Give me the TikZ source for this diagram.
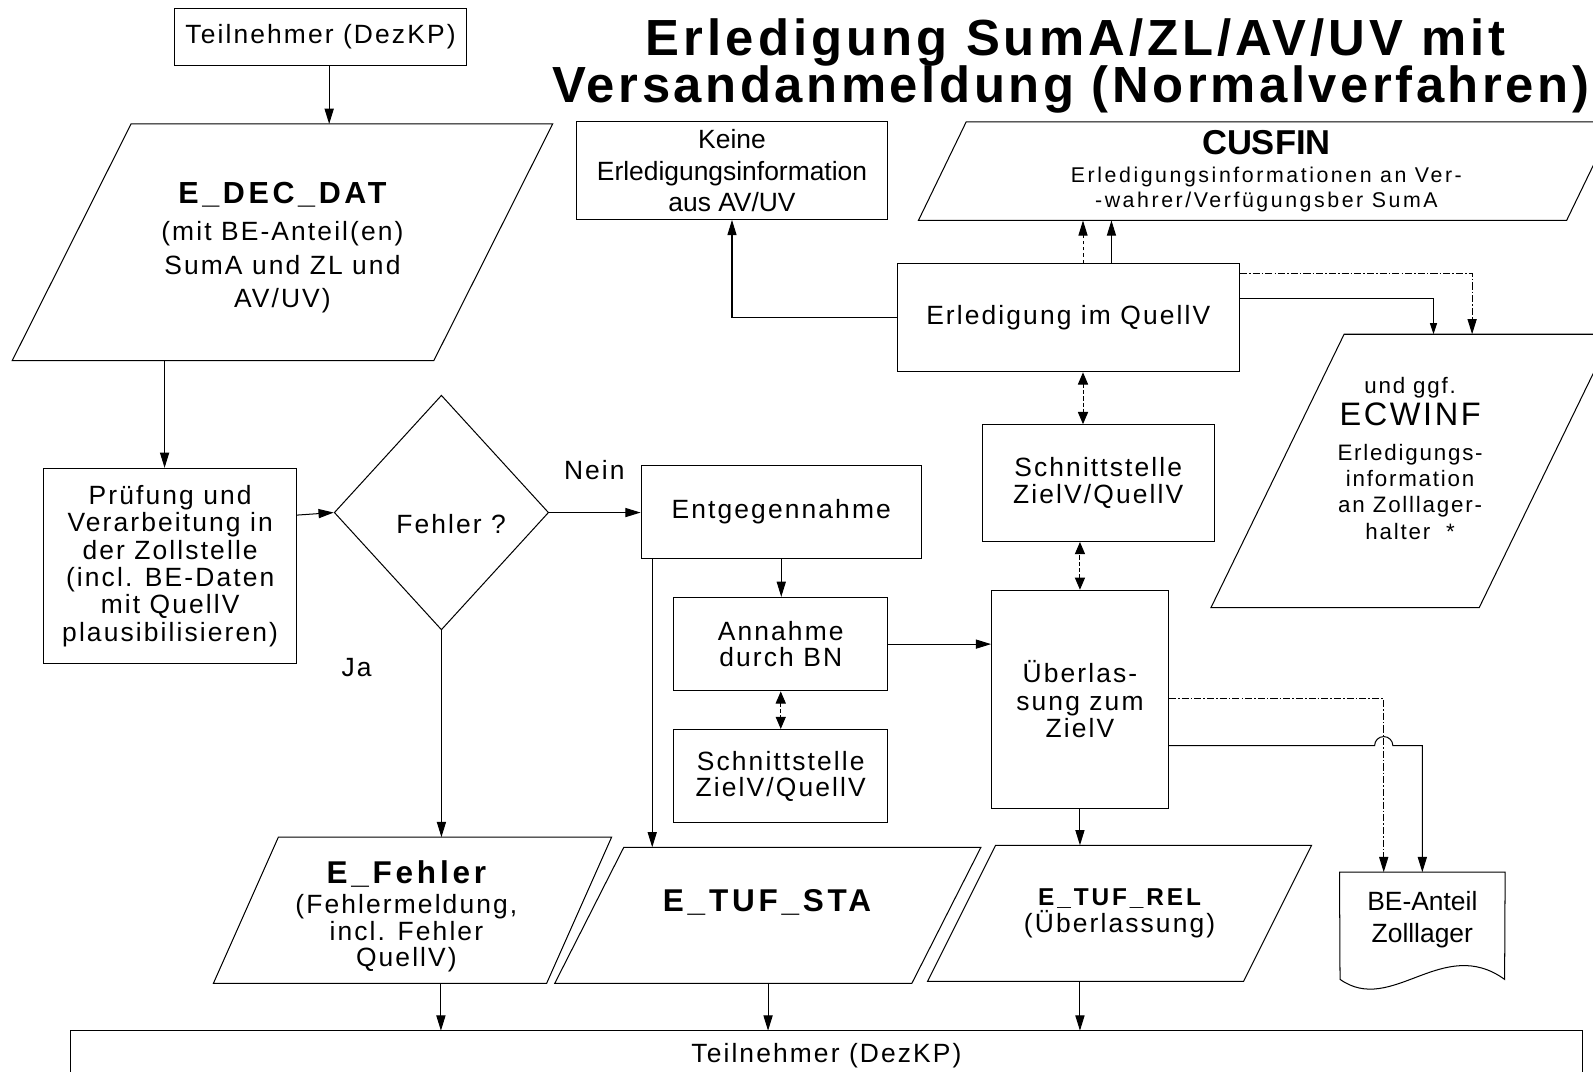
\documentclass[tikz,border=0pt]{standalone}
\usepackage{fontspec}
\setmainfont{Liberation Sans}
\newfontfamily\trackA[LetterSpace=8]{Liberation Sans}
\newfontfamily\trackB[LetterSpace=12]{Liberation Sans}
\newfontfamily\trackT[LetterSpace=7]{Liberation Sans}
\newcommand\fsz[2]{\fontsize{#1}{#2}\selectfont}
\usetikzlibrary{shapes.geometric,arrows.meta}

\begin{document}
\begin{tikzpicture}[x=1pt, y=-1pt, line width=1pt,
	box/.style={draw, rectangle, inner sep=0pt, align=center, font=\trackA\fsz{26}{27}},
	data/.style={rectangle, inner sep=0pt, outer sep=0pt, align=center, font=\trackA\fsz{26}{26}},
	txt/.style={inner sep=0pt, align=center, font=\trackA\fsz{26}{27}},
	arr/.style={-{Triangle[length=15pt,width=9pt]}},
	twoway/.style={dash pattern=on 4pt off 2pt, {Triangle[length=12pt,width=10pt]}-{Triangle[length=12pt,width=10pt]}},
	dashdot/.style={dash pattern=on 7pt off 2pt on 1.5pt off 2pt}]
	\useasboundingbox (0,0) rectangle (1568,1055);
	\clip (0,0) rectangle (1568,1055);

	% title
	\node[anchor=base, inner sep=0pt, font=\trackA\bfseries\fsz{50}{52}] (title1) at (1059,55) {Erledigung SumA/ZL/AV/UV mit};
	\node[anchor=base, inner sep=0pt, font=\trackT\bfseries\fsz{50}{52}] (title2) at (1054,101) {Versandanmeldung (Normalverfahren)};

	% left column
	\node[box, minimum width=287, minimum height=56] (tntop) at (315.5,36) {Teilnehmer (DezKP)};
	\node[data, minimum width=415, minimum height=233] (edec) at (278,238.5) {};
	\node[txt, font=\trackA\fsz{26}{33}] (edectxt) at (278,244)
		{{\trackB\bfseries\fsz{30}{33}E\_DEC\_DAT}\\[3pt](mit BE-Anteil(en)\\SumA und ZL und\\AV/UV)};
	\node[box, minimum width=249, minimum height=192] (pruef) at (167.5,557)
		{Prüfung und\\Verarbeitung in\\der Zollstelle\\(incl. BE-Daten\\mit QuellV\\plausibilisieren)};
	\node[draw, diamond, inner sep=0pt, minimum width=211, minimum height=231] (fehler) at (434.5,504.5) {};
	\node[txt] (fehlertxt) at (444,516) {Fehler ?};
	\node[txt] (nein) at (585,463) {Nein};
	\node[txt] (ja) at (351,657) {Ja};

	% middle column
	\node[box, minimum width=276, minimum height=92] (entg) at (769,504) {Entgegennahme};
	\node[box, minimum width=211, minimum height=92, font=\trackA\fsz{26}{26}] (annahme) at (768.5,634) {Annahme\\durch BN};
	\node[box, minimum width=211, minimum height=92, font=\trackA\fsz{26}{26}] (schnittU) at (768.5,764) {Schnittstelle\\ZielV/QuellV};
	\node[box, minimum width=307, minimum height=96, font=\fsz{26}{31}] (keine) at (720.5,168) {Keine\\Erledigungsinformation\\aus AV/UV};

	% right column
	\node[box, minimum width=337, minimum height=107] (erled) at (1051.5,312.5) {Erledigung im QuellV};
	\node[box, minimum width=228, minimum height=115, font=\trackA\fsz{26}{26}] (schnittO) at (1081,475.5) {Schnittstelle\\ZielV/QuellV};
	\node[box, minimum width=174, minimum height=215] (ueberl) at (1063,688.5) {Überlas-\\sung zum\\ZielV};
	\node[data, minimum width=638, minimum height=97, font=\trackB\fsz{21}{25}] (cusfin) at (1246.5,168.5)
		{{\rmfamily\bfseries\fsz{34}{36}CUSFIN}\\[2pt]Erledigungsinformationen an Ver-\\-wahrer/Verfügungsber SumA};
	\node[data, minimum width=264, minimum height=269] (ecwinf) at (1389.5,463.5) {};
	\node[txt, font=\trackA\fsz{22}{26}] (ecwtxt) at (1388,451)
		{und ggf.\\[4pt]{\fsz{32}{34}ECWINF}\\[8pt]Erledigungs-\\information\\an Zolllager-\\halter\ \ *};
	\node[inner sep=0pt, minimum width=162, minimum height=92, align=center, font=\fsz{26}{32}] (beanteil) at (1400,905) {BE-Anteil\\Zolllager};
	\draw (beanteil.north west) -- (beanteil.north east) -- (1481,964) .. controls (1420,920) and (1370,1000) .. (1319,964) -- cycle;

	% output messages
	\node[data, minimum width=328, minimum height=144] (efehler) at (406,896) {};
	\node[txt, font=\trackA\fsz{26}{26}] (efehlertxt) at (400,902)
		{{\trackB\bfseries\fsz{31}{32}E\_Fehler}\\[4pt](Fehlermeldung,\\incl. Fehler\\QuellV)};
	\node[data, minimum width=351.5, minimum height=134] (etufsta) at (755.75,901) {};
	\node[txt, font=\trackB\bfseries\fsz{31}{32}] (statxt) at (755,888) {E\_TUF\_STA};
	\node[data, minimum width=311, minimum height=134] (etufrel) at (1102,899)
		{{\trackB\bfseries\fsz{24}{26}E\_TUF\_REL}\\(Überlassung)};
	\node[inner sep=0pt, minimum width=1487, minimum height=48, font=\trackA\fsz{26}{27}] (tnbottom) at (813.5,1039) {Teilnehmer (DezKP)};
	\draw ([yshift=-30pt]tnbottom.south west) -- (tnbottom.north west) -- (tnbottom.north east) -- ([yshift=-30pt]tnbottom.south east);

	% slanted data shapes
	\foreach \n/\s in {edec/117, cusfin/47, ecwinf/131, efehler/64, etufsta/68, etufrel/67}
		\draw ([xshift=\s/2]\n.north west) -- ([xshift=\s/2]\n.north east) -- ([xshift=-\s/2]\n.south east) -- ([xshift=-\s/2]\n.south west) -- cycle;

	% connectors
	\draw[arr] (324,0 |- tntop.south) -- (324,0 |- edec.north);
	\draw[arr] (162,0 |- edec.south) -- (162,0 |- pruef.north);
	\draw[arr] (pruef.east |- 0,507) -- (fehler.west);
	\draw[arr] (fehler.east) -- (fehler.east -| entg.west);
	\draw[arr] (fehler.south) -- (fehler.south |- efehler.north);
	\draw[arr] (642,0 |- entg.south) -- (642,0 |- etufsta.north);
	\draw[arr] (entg.south) -- (entg.south |- annahme.north);
	\draw[twoway] (annahme.south) -- (schnittU.north);
	\draw[arr] (annahme.east) -- (annahme.east -| ueberl.west);
	\draw[arr] (ueberl.south) -- (ueberl.south |- etufrel.north);
	\draw[twoway] (ueberl.north) -- (ueberl.north |- schnittO.south);
	\draw[twoway] (1066,0 |- erled.south) -- (1066,0 |- schnittO.north);
	\draw[arr] (erled.west) -- (erled.west -| keine.south) -- (keine.south);
	\draw[arr, dashed] (1066,0 |- erled.north) -- (1066,0 |- cusfin.south);
	\draw[arr] (1094,0 |- erled.north) -- (1094,0 |- cusfin.south);
	\draw[arr, dashdot] (erled.east |- 0,269) -| (1449,0 |- ecwinf.north);
	\draw[-{Triangle[length=11pt,width=7pt]}] (erled.east |- 0,294) -| (1411,0 |- ecwinf.north);
	\draw[arr, dashdot] (ueberl.east |- 0,688) -| (1362,0 |- beanteil.north);
	\draw[arr] (ueberl.east |- 0,734) -- (1353,734) arc[start angle=180, end angle=0, radius=9pt] -| (1400,0 |- beanteil.north);
	\draw[arr] (434,0 |- efehler.south) -- (434,0 |- tnbottom.north);
	\draw[arr] (756,0 |- etufsta.south) -- (756,0 |- tnbottom.north);
	\draw[arr] (1063,0 |- etufrel.south) -- (1063,0 |- tnbottom.north);
\end{tikzpicture}
\end{document}
